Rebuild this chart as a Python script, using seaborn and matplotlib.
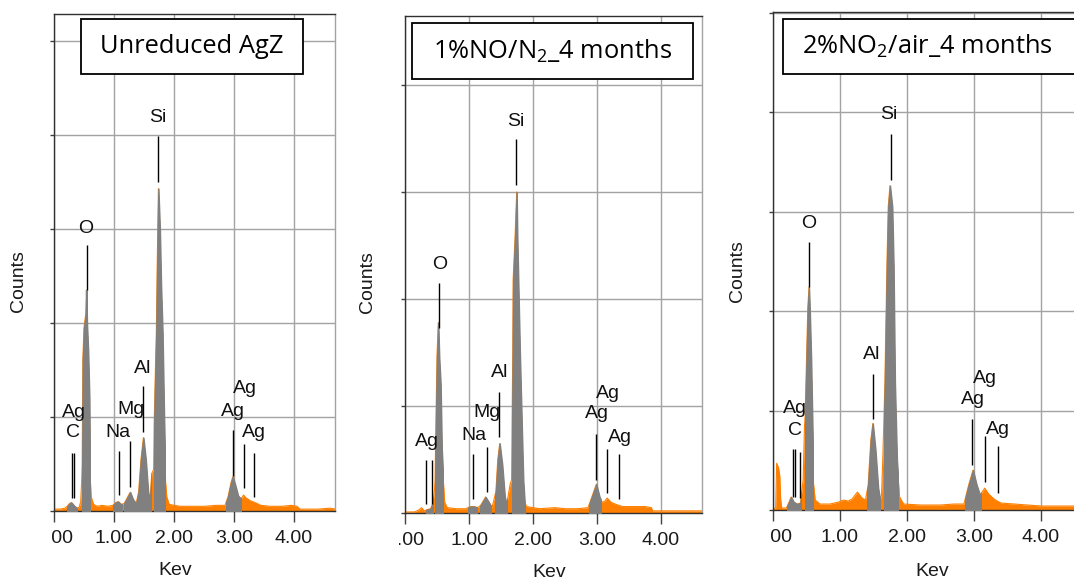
import numpy as np
import matplotlib
matplotlib.use("Agg")
import matplotlib.pyplot as plt
import seaborn as sns
from matplotlib.patches import Rectangle
from matplotlib.transforms import Bbox

# ---------------- EDS spectra (energy keV, counts in arbitrary units) ----------------
spec_unreduced = [
    (0.00, 0.02), (0.10, 0.02), (0.18, 0.03), (0.22, 0.05), (0.26, 0.08), (0.29, 0.09),
    (0.33, 0.06), (0.38, 0.03), (0.42, 0.04), (0.445, 0.10), (0.46, 0.30), (0.47, 0.50),
    (0.48, 1.60), (0.50, 1.95), (0.53, 2.10), (0.54, 2.35), (0.55, 2.00), (0.57, 1.70),
    (0.59, 1.20), (0.60, 0.40), (0.62, 0.15), (0.66, 0.07), (0.72, 0.05), (0.80, 0.06),
    (0.90, 0.05), (0.98, 0.06), (1.03, 0.09), (1.07, 0.10), (1.12, 0.07), (1.17, 0.08),
    (1.22, 0.14), (1.27, 0.20), (1.32, 0.12), (1.37, 0.08), (1.41, 0.20), (1.45, 0.55),
    (1.49, 0.78), (1.53, 0.55), (1.57, 0.20), (1.60, 0.12), (1.63, 0.40), (1.66, 0.44),
    (1.67, 0.94), (1.69, 1.50), (1.705, 1.89), (1.72, 2.60), (1.74, 3.43), (1.765, 3.00),
    (1.785, 2.40), (1.81, 1.89), (1.835, 1.00), (1.86, 0.30), (1.88, 0.15), (1.92, 0.07),
    (2.10, 0.05), (2.30, 0.05), (2.50, 0.05), (2.70, 0.06), (2.85, 0.06), (2.90, 0.15),
    (2.95, 0.30), (2.98, 0.365), (3.02, 0.28), (3.07, 0.16), (3.12, 0.13), (3.16, 0.17),
    (3.20, 0.14), (3.27, 0.11), (3.35, 0.09), (3.45, 0.06), (3.60, 0.05), (3.80, 0.05),
    (3.95, 0.06), (4.05, 0.05), (4.10, 0.02), (4.40, 0.02), (4.60, 0.03), (4.70, 0.02),
]
spec_no = [
    (0.00, 0.01), (0.15, 0.01), (0.22, 0.03), (0.26, 0.05), (0.30, 0.02), (0.34, 0.03),
    (0.40, 0.04), (0.44, 0.10), (0.46, 0.21), (0.47, 0.31), (0.49, 1.10), (0.50, 1.46),
    (0.52, 1.78), (0.535, 1.46), (0.557, 1.20), (0.575, 0.60), (0.598, 0.31), (0.62, 0.10),
    (0.66, 0.05), (0.80, 0.04), (0.95, 0.04), (1.02, 0.06), (1.08, 0.06), (1.13, 0.05),
    (1.18, 0.07), (1.26, 0.15), (1.32, 0.09), (1.36, 0.05), (1.42, 0.20), (1.45, 0.50),
    (1.48, 0.65), (1.52, 0.45), (1.56, 0.15), (1.59, 0.08), (1.64, 0.26), (1.665, 0.31),
    (1.683, 1.46), (1.69, 2.18), (1.72, 2.58), (1.745, 3.00), (1.755, 2.58), (1.77, 2.18),
    (1.797, 1.46), (1.848, 0.31), (1.87, 0.10), (1.90, 0.06), (2.10, 0.04), (2.34, 0.05),
    (2.50, 0.04), (2.70, 0.04), (2.86, 0.05), (2.92, 0.15), (2.99, 0.27), (3.04, 0.15),
    (3.08, 0.10), (3.12, 0.11), (3.16, 0.14), (3.22, 0.10), (3.30, 0.08), (3.40, 0.06),
    (3.60, 0.06), (3.75, 0.06), (3.85, 0.05), (3.87, 0.02), (4.20, 0.02), (4.65, 0.02),
]
spec_no2 = [
    (0.00, 0.01), (0.04, 0.02), (0.055, 0.47), (0.08, 0.43), (0.10, 0.35), (0.115, 0.10),
    (0.13, 0.02), (0.20, 0.02), (0.24, 0.08), (0.27, 0.13), (0.31, 0.08), (0.36, 0.06),
    (0.41, 0.07), (0.45, 0.30), (0.47, 0.84), (0.48, 0.95), (0.50, 1.50), (0.52, 2.04),
    (0.537, 2.24), (0.55, 2.00), (0.57, 1.50), (0.59, 0.80), (0.605, 0.26), (0.63, 0.10),
    (0.70, 0.06), (0.85, 0.06), (0.98, 0.08), (1.05, 0.10), (1.12, 0.09), (1.18, 0.11),
    (1.26, 0.18), (1.33, 0.12), (1.38, 0.10), (1.42, 0.25), (1.46, 0.70), (1.49, 0.87),
    (1.53, 0.60), (1.57, 0.22), (1.60, 0.10), (1.62, 0.15), (1.64, 0.54), (1.67, 1.28),
    (1.70, 2.45), (1.72, 3.05), (1.746, 3.26), (1.78, 3.05), (1.80, 2.45), (1.82, 1.28),
    (1.85, 0.50), (1.87, 0.30), (1.89, 0.13), (1.95, 0.06), (2.20, 0.05), (2.50, 0.05),
    (2.70, 0.06), (2.85, 0.06), (2.92, 0.25), (2.985, 0.40), (3.04, 0.25), (3.09, 0.15),
    (3.14, 0.20), (3.16, 0.22), (3.22, 0.16), (3.30, 0.11), (3.40, 0.07), (3.60, 0.06),
    (3.80, 0.05), (4.00, 0.04), (4.30, 0.04), (4.58, 0.04),
]

# identified-element energy windows (shaded grey)
win_unreduced = [(0.22, 0.39), (0.47, 0.60), (0.99, 1.13), (1.17, 1.37), (1.39, 1.61),
                 (1.665, 1.85), (2.87, 3.12)]
win_no = [(0.33, 0.44), (0.47, 0.60), (0.99, 1.13), (1.17, 1.35), (1.41, 1.59),
          (1.667, 1.87), (2.88, 3.07)]
win_no2 = [(0.21, 0.42), (0.48, 0.60), (1.40, 1.59), (1.655, 1.87), (2.87, 3.11)]

# peak marker lines: (energy, bottom, top)
mark_unreduced = [(0.305, 0.14, 0.62), (0.325, 0.14, 0.62), (0.545, 2.35, 2.83),
                  (1.08, 0.17, 0.64), (1.27, 0.26, 0.74), (1.49, 0.84, 1.33),
                  (1.74, 3.50, 3.99), (2.98, 0.37, 0.86), (3.17, 0.24, 0.71),
                  (3.34, 0.15, 0.62)]
mark_no = [(0.33, 0.08, 0.50), (0.42, 0.08, 0.50), (0.53, 1.73, 2.15),
           (1.06, 0.13, 0.55), (1.28, 0.20, 0.62), (1.47, 0.71, 1.13),
           (1.73, 3.07, 3.50), (2.98, 0.31, 0.74), (3.16, 0.19, 0.60),
           (3.34, 0.13, 0.55)]
mark_no2 = [(0.30, 0.13, 0.61), (0.335, 0.13, 0.61), (0.41, 0.12, 0.58),
            (0.54, 2.24, 2.69), (1.49, 0.91, 1.37), (1.757, 3.32, 3.78),
            (2.97, 0.45, 0.91), (3.16, 0.28, 0.74), (3.36, 0.17, 0.64)]

# element labels: (text, energy, height)
lab_unreduced = [("C", 0.317, 0.83), ("Ag", 0.333, 1.05), ("O", 0.533, 3.01),
                 ("Na", 1.072, 0.83), ("Mg", 1.283, 1.08), ("Al", 1.478, 1.52),
                 ("Si", 1.728, 4.19), ("Ag", 2.978, 1.06), ("Ag", 3.183, 1.30),
                 ("Ag", 3.333, 0.83)]
lab_no = [("Ag", 0.339, 0.67), ("O", 0.547, 2.32), ("Na", 1.078, 0.72),
          ("Mg", 1.286, 0.94), ("Al", 1.473, 1.31), ("Si", 1.730, 3.66),
          ("Ag", 2.995, 0.93), ("Ag", 3.177, 1.12), ("Ag", 3.359, 0.71)]
lab_no2 = [("C", 0.333, 0.80), ("Ag", 0.333, 1.02), ("O", 0.537, 2.88),
           ("Al", 1.473, 1.56), ("Si", 1.736, 3.97), ("Ag", 2.990, 1.11),
           ("Ag", 3.164, 1.32), ("Ag", 3.358, 0.81)]

titles = ["Unreduced AgZ",
          r"1%NO/N$_\mathregular{2}$_4 months",
          r"2%NO$_\mathregular{2}$/air_4 months"]
x_ticks = [0, 1, 2, 3, 4]
x_ticklabels = ["0.00", "1.00", "2.00", "3.00", "4.00"]

# ---------------- styling ----------------
sns.set_theme(style="whitegrid")
NARROW = ["Liberation Sans Narrow", "Liberation Sans", "DejaVu Sans"]
REGULAR = ["Liberation Sans", "DejaVu Sans"]
TITLE_FONT = ["Open Sans", "DejaVu Sans"]
plt.rcParams["font.family"] = NARROW
ORANGE = "#ff8000"
GREY = "#808080"
GRID = "#a3a3a3"
W, H = 1074, 582

fig = plt.figure(figsize=(W / 100, H / 100), dpi=100)


def add_axes_px(left, right, top, bottom):
    return fig.add_axes([left / W, 1 - bottom / H, (right - left) / W, (bottom - top) / H])


def draw_panel(ax, spec, windows, marks, labels, title, xmax, ymax,
               box, text_xy, text_ha, clip_x, xlab_xy, ylab_xy):
    kev, cts = np.array(spec).T
    ax.set_xlim(0, xmax)
    ax.set_ylim(0, ymax)

    # full spectrum in orange, identified windows in grey
    ax.fill_between(kev, 0, cts, color=ORANGE, lw=0, zorder=2)
    sns.lineplot(x=kev, y=cts, ax=ax, color=ORANGE, lw=0.8, zorder=2)
    for lo, hi in windows:
        poly = ax.fill_between(kev, 0, cts, facecolor=GREY, edgecolor=GREY,
                               lw=1.0, zorder=3)
        poly.set_clip_path(Rectangle((lo, 0), hi - lo, ymax, transform=ax.transData))

    for e, y0, y1 in marks:
        ax.vlines(e, y0, y1, color="black", lw=1.0, zorder=4)
    for s, e, y in labels:
        ax.text(e, y, s, ha="center", va="center", fontsize=14,
                color="#111111", zorder=4)

    # axes frame, grid and ticks
    ax.set_axisbelow(True)
    ax.grid(True, color=GRID, lw=1.0)
    ax.set_xticks(x_ticks, labels=x_ticklabels)
    ax.set_yticks(np.arange(0, int(np.floor(ymax + 1e-6)) + 1))
    ax.tick_params(axis="x", bottom=True, direction="out", length=8, width=1.0,
                   color="#404040", labelsize=14, labelcolor="#1a1a1a", pad=6)
    ax.tick_params(axis="y", left=True, direction="out", length=3, width=1.0,
                   color="#404040", labelleft=False)
    for side in ["left", "bottom", "top"]:
        ax.spines[side].set_color("#303030")
        ax.spines[side].set_linewidth(1.0)
    ax.spines["right"].set_color(GRID)
    ax.spines["right"].set_linewidth(1.0)

    # leftmost tick label is cut at the frame
    lab0 = ax.xaxis.get_major_ticks()[0].label1
    lab0.set_clip_box(Bbox.from_extents(clip_x, 0, W, H))
    lab0.set_clip_on(True)

    ax.set_xlabel("Kev", fontsize=14, fontfamily=REGULAR, color="#1a1a1a")
    ax.xaxis.set_label_coords(*xlab_xy)
    ax.xaxis.label.set_va("center")
    ax.set_ylabel("Counts", fontsize=14, fontfamily=REGULAR, color="#1a1a1a")
    ax.yaxis.set_label_coords(*ylab_xy)
    ax.yaxis.label.set_va("center")

    # sample title box
    x0, y0, x1, y1 = box
    ax.add_patch(Rectangle((x0, y0), x1 - x0, y1 - y0, transform=ax.transAxes,
                           facecolor="white", edgecolor="black", lw=1.3,
                           zorder=6, clip_on=False))
    ax.text(text_xy[0], text_xy[1], title, transform=ax.transAxes, ha=text_ha,
            va="center", fontsize=18.4, fontfamily=TITLE_FONT, color="black",
            zorder=7, clip_on=False)


ax1 = add_axes_px(54, 335, 14, 511)
draw_panel(ax1, spec_unreduced, win_unreduced, mark_unreduced, lab_unreduced, titles[0],
           xmax=281 / 60, ymax=497 / 94,
           box=(0.096, 0.879, 0.886, 0.990), text_xy=(0.491, 0.935), text_ha="center",
           clip_x=52, xlab_xy=(0.431, -0.119), ylab_xy=(-0.128, 0.463))

ax2 = add_axes_px(405, 702, 16, 513)
draw_panel(ax2, spec_no, win_no, mark_no, lab_no, titles[1],
           xmax=297 / 64, ymax=497 / 107,
           box=(0.024, 0.873, 0.970, 0.986), text_xy=(0.497, 0.930), text_ha="center",
           clip_x=398.5, xlab_xy=(0.485, -0.119), ylab_xy=(-0.125, 0.465))

ax3 = add_axes_px(773, 1080, 12, 510)
draw_panel(ax3, spec_no2, win_no2, mark_no2, lab_no2, titles[2],
           xmax=307 / 67, ymax=498 / 99.5,
           box=(0.033, 0.876, 1.10, 0.986), text_xy=(0.094, 0.932), text_ha="left",
           clip_x=770.5, xlab_xy=(0.518, -0.124), ylab_xy=(-0.117, 0.48))

fig.savefig("out.png", dpi=100)
